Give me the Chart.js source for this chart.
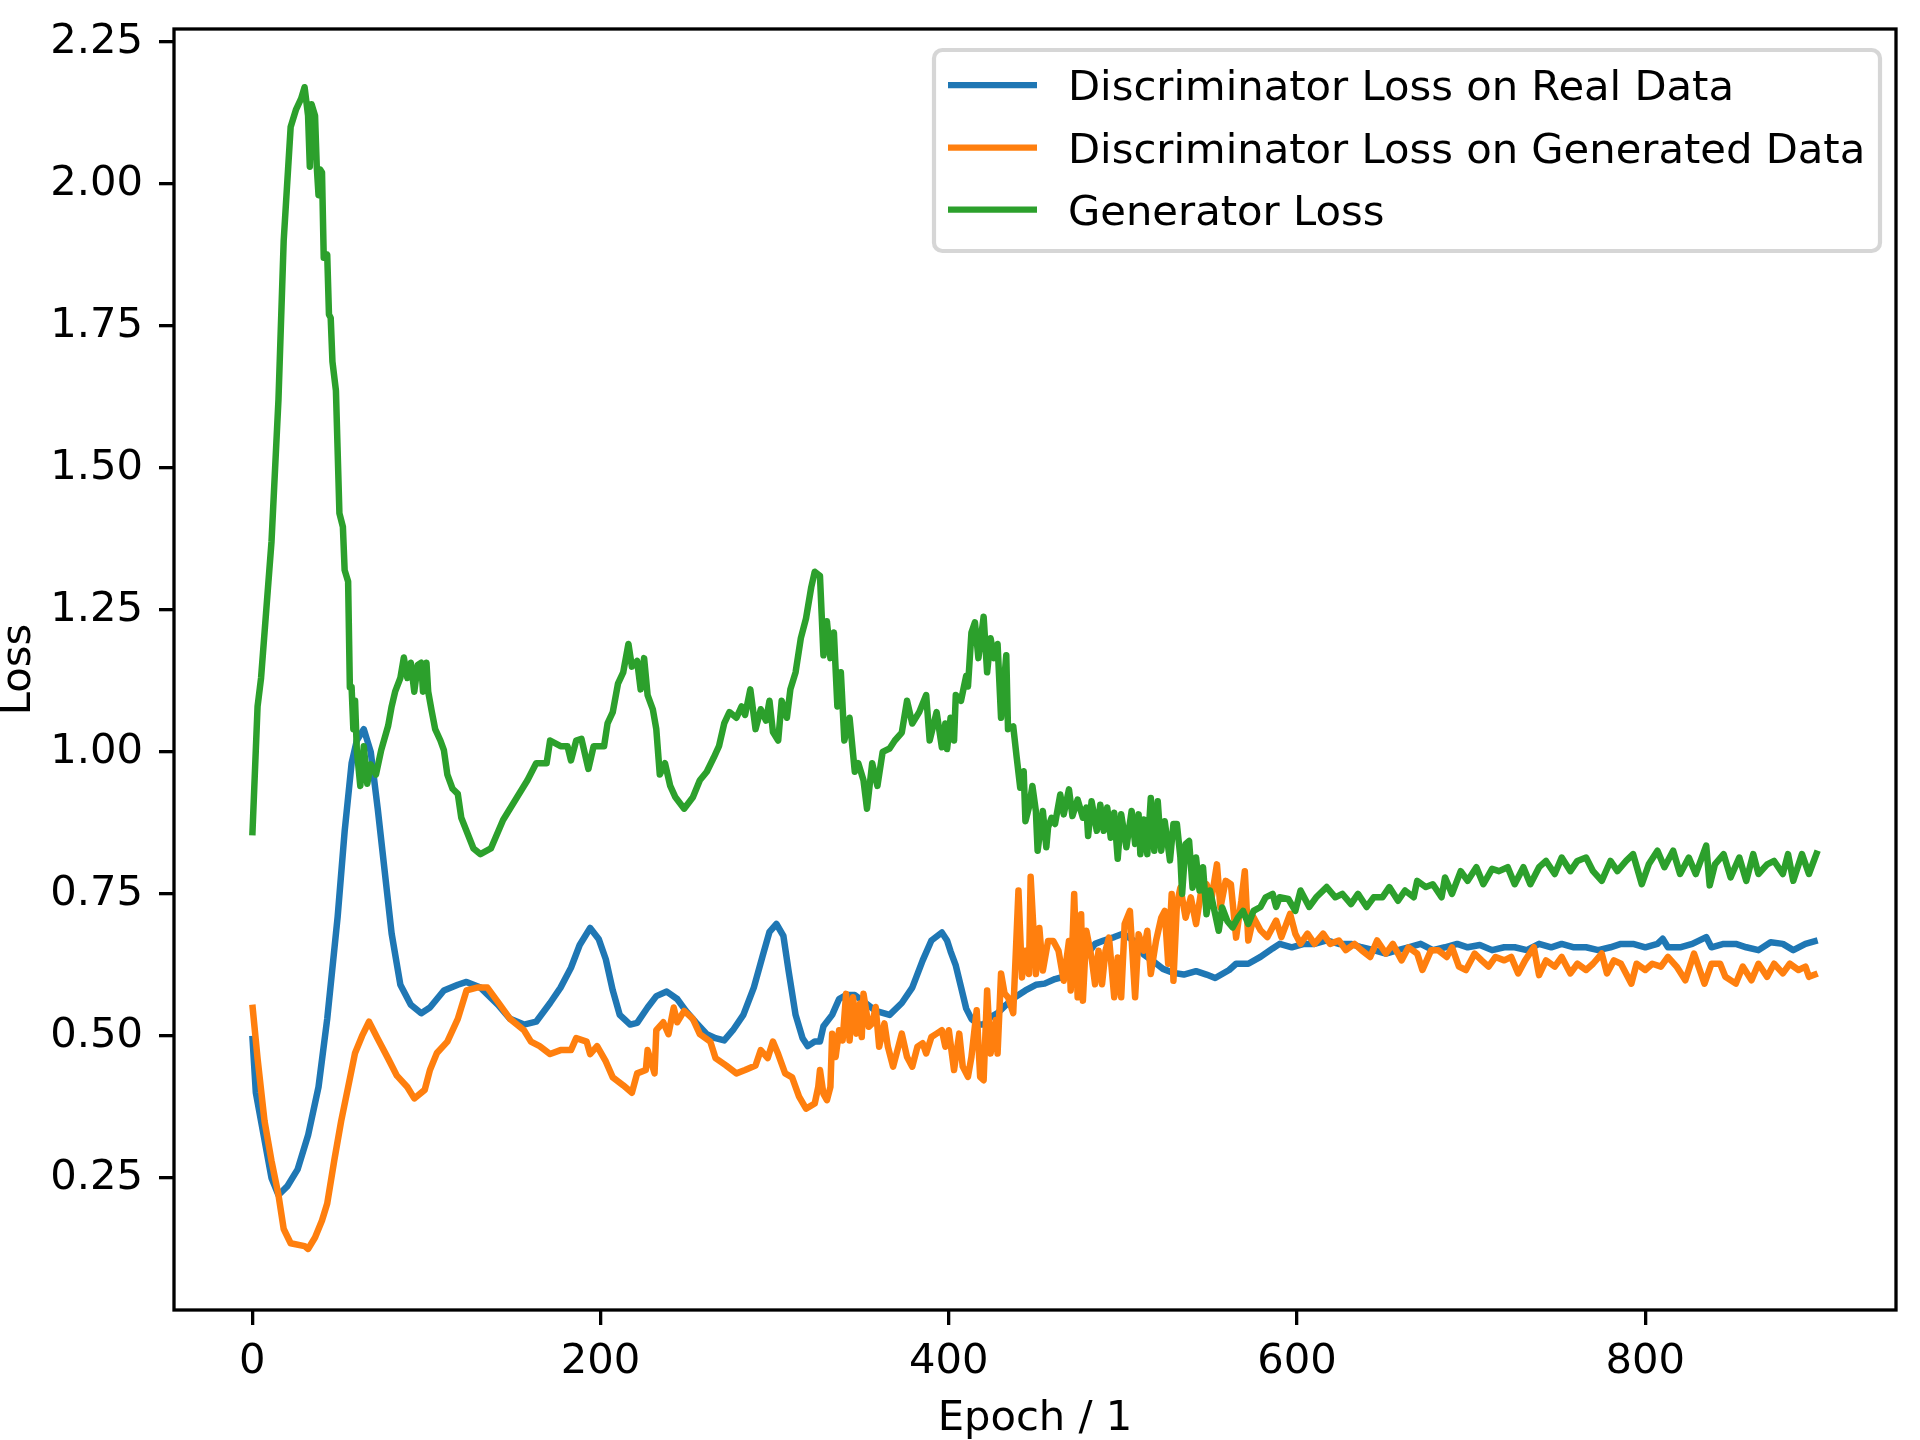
<!DOCTYPE html>
<html><head><meta charset="utf-8">
<script src="https://cdn.jsdelivr.net/npm/chart.js@4.4.1/dist/chart.umd.min.js"></script>
<style>html,body{margin:0;padding:0;background:#fff}#wrap{width:1920px;height:1440px}</style>
</head><body><div id="wrap"><canvas id="c" width="1920" height="1440"></canvas></div>
<script>
const seriesLabels = ['Discriminator Loss on Real Data', 'Discriminator Loss on Generated Data', 'Generator Loss'];
const xTicks = [0, 200, 400, 600, 800];
const yTicks = [0.25, 0.5, 0.75, 1.0, 1.25, 1.5, 1.75, 2.0, 2.25];

const epochsReal = [
0,2,5,11,15,20,26,32,38,43,
49,53,57,60,64,68,72,76,80,85,
91,97,102,110,118,123,131,141,148,156,
163,171,177,183,188,194,199,203,207,211,
217,221,227,232,238,244,249,255,261,266,
271,276,282,288,293,297,301,305,308,312,
316,319,323,326,328,333,337,341,346,352,
358,366,373,379,385,390,396,399,401,404,
407,410,413,417,420,424,428,433,438,444,
450,455,461,467,472,478,484,489,495,500,
506,512,518,523,529,535,542,548,553,561,
565,572,579,586,590,597,604,610,617,624,
631,637,644,651,658,664,671,678,685,692,
698,705,712,719,725,732,739,746,752,759,
766,773,780,786,793,800,807,810,813,820,
827,835,838,845,852,858,865,872,879,885,
892,899];
const lossReal = [
0.50,0.40,0.35,0.25,0.22,0.235,0.265,0.325,0.41,0.53,
0.71,0.86,0.98,1.02,1.04,1.00,0.90,0.79,0.68,0.59,
0.555,0.54,0.55,0.58,0.59,0.595,0.585,0.555,0.53,0.52,
0.525,0.558,0.585,0.62,0.66,0.69,0.67,0.635,0.58,0.537,
0.52,0.523,0.55,0.57,0.578,0.565,0.544,0.523,0.503,0.496,
0.492,0.51,0.537,0.585,0.64,0.683,0.697,0.676,0.614,0.537,
0.496,0.482,0.49,0.49,0.517,0.537,0.565,0.572,0.572,0.558,
0.544,0.537,0.558,0.585,0.633,0.668,0.682,0.668,0.649,0.624,
0.586,0.548,0.53,0.52,0.52,0.533,0.54,0.555,0.568,0.58,
0.59,0.592,0.60,0.605,0.618,0.637,0.662,0.668,0.674,0.68,
0.668,0.643,0.63,0.618,0.611,0.608,0.614,0.608,0.602,0.616,
0.627,0.627,0.639,0.654,0.662,0.656,0.662,0.662,0.668,0.662,
0.662,0.656,0.651,0.645,0.651,0.656,0.662,0.651,0.656,0.662,
0.656,0.66,0.651,0.656,0.656,0.651,0.662,0.656,0.662,0.656,
0.656,0.651,0.656,0.662,0.662,0.656,0.662,0.671,0.656,0.656,
0.662,0.674,0.656,0.662,0.662,0.656,0.651,0.665,0.662,0.651,
0.662,0.668];

const epochsGenerated = [
0,3,7,11,15,18,22,30,32,36,
40,43,47,51,55,59,63,67,72,78,
83,89,93,99,102,106,112,118,123,129,
135,141,148,156,160,165,171,177,183,186,
192,194,198,203,207,213,218,221,226,227,
231,232,236,239,242,244,248,253,257,263,
266,272,278,283,289,292,296,299,302,306,
310,314,318,323,325,326,328,330,332,333,
335,337,339,341,343,345,347,349,350,351,
354,356,358,360,363,365,368,370,373,376,
379,382,385,387,390,393,396,398,400,403,
406,408,411,413,416,418,420,422,424,427,
428,430,432,434,437,440,442,444,446,447,
450,452,454,457,460,463,466,469,470,472,
474,476,477,479,482,484,486,488,490,492,
495,497,499,501,504,507,509,512,514,516,
519,522,524,526,528,529,531,533,536,539,
542,545,548,551,554,556,559,562,565,568,
570,572,575,579,583,588,591,596,
599,602,606,610,615,619,624,628,633,637,
642,646,651,655,660,664,669,672,677,681,
686,689,693,697,702,706,710,714,719,723,
727,731,736,739,743,748,752,757,761,766,
770,775,778,782,786,792,795,800,804,809,
813,818,823,828,834,838,843,846,852,856,
861,865,870,874,879,883,888,892,894,899];
const lossGenerated = [
0.555,0.46,0.35,0.28,0.22,0.16,0.135,0.13,0.125,0.145,
0.175,0.205,0.28,0.35,0.41,0.47,0.50,0.525,0.495,0.46,
0.43,0.41,0.39,0.405,0.44,0.47,0.49,0.53,0.58,0.585,
0.585,0.56,0.53,0.51,0.49,0.482,0.468,0.475,0.475,0.496,
0.49,0.468,0.482,0.455,0.427,0.413,0.40,0.434,0.44,0.475,
0.434,0.51,0.524,0.503,0.55,0.524,0.544,0.53,0.503,0.49,
0.461,0.448,0.434,0.44,0.448,0.475,0.461,0.49,0.468,0.434,
0.427,0.393,0.372,0.381,0.41,0.44,0.398,0.387,0.41,0.504,
0.463,0.51,0.492,0.574,0.492,0.568,0.504,0.557,0.498,0.574,
0.516,0.522,0.551,0.481,0.522,0.481,0.446,0.469,0.504,0.463,
0.446,0.481,0.487,0.469,0.498,0.504,0.51,0.481,0.51,0.44,
0.504,0.446,0.428,0.463,0.545,0.428,0.422,0.58,0.469,0.528,
0.469,0.61,0.575,0.568,0.54,0.756,0.603,0.65,0.609,0.78,
0.609,0.69,0.615,0.667,0.667,0.65,0.597,0.667,0.58,0.75,
0.568,0.714,0.562,0.685,0.638,0.591,0.65,0.591,0.65,0.673,
0.568,0.638,0.568,0.697,0.72,0.568,0.679,0.65,0.685,0.609,
0.667,0.708,0.72,0.627,0.75,0.597,0.732,0.761,0.708,0.744,
0.697,0.756,0.767,0.744,0.802,0.726,0.773,0.767,0.673,0.738,
0.79,0.668,0.709,0.686,0.674,0.703,0.674,0.715,
0.68,0.662,0.68,0.662,0.68,0.662,0.668,0.651,0.662,0.651,
0.639,0.668,0.645,0.662,0.633,0.656,0.645,0.616,0.651,0.651,
0.639,0.656,0.622,0.616,0.645,0.633,0.622,0.639,0.633,0.639,
0.61,0.633,0.656,0.607,0.633,0.622,0.639,0.61,0.627,0.616,
0.627,0.645,0.61,0.633,0.627,0.592,0.627,0.616,0.627,0.622,
0.639,0.622,0.598,0.645,0.592,0.627,0.627,0.604,0.592,0.622,
0.598,0.627,0.604,0.627,0.61,0.627,0.616,0.622,0.604,0.61];

const epochsGenerator = [
0,3,5,11,15,18,22,25,28,30,
32,33,34,36,37,38,39,40,41,43,
44,45,46,48,50,52,53,55,56,57,
58,59,60,62,64,66,68,71,74,78,
80,82,85,87,89,91,93,95,97,98,
100,101,103,105,108,110,112,115,118,120,
127,131,137,144,152,158,163,169,171,177,
181,183,
186,189,193,196,202,204,207,210,213,216,
218,221,223,225,227,230,232,234,237,240,
243,248,253,257,261,265,268,271,274,278,
281,283,286,289,292,295,297,299,302,304,
307,309,312,315,318,321,323,326,328,330,
332,334,336,338,340,343,346,348,351,353,
356,359,362,366,369,373,376,379,383,387,
389,393,396,398,399,401,403,404,407,410,
411,413,415,417,420,422,424,426,428,430,
433,434,437,439,441,443,444,446,448,450,
451,454,456,457,459,461,464,466,469,471,
474,477,479,480,482,485,487,489,491,493,
495,497,499,502,505,507,509,510,512,514,
516,518,520,522,524,527,529,531,533,534,
536,538,540,542,544,546,548,550,553,555,
557,560,563,566,569,572,575,579,582,586,
588,590,595,599,602,607,611,617,622,626,
631,635,640,644,649,653,658,662,667,669,
674,678,683,685,689,694,698,703,707,712,
716,721,725,730,734,739,743,748,752,757,
761,766,770,775,780,784,789,793,798,802,
807,811,816,820,825,829,835,837,840,845,
849,854,858,862,865,870,874,879,882,885,
890,894,899];
const lossGenerator = [
0.853,1.08,1.13,1.37,1.62,1.90,2.10,2.13,2.15,2.17,
2.12,2.03,2.14,2.12,2.03,1.98,2.025,2.02,1.87,1.875,
1.77,1.764,1.687,1.636,1.42,1.396,1.32,1.30,1.114,1.114,
1.04,1.09,1.003,0.94,1.01,0.944,0.978,0.96,1.003,1.046,
1.08,1.106,1.13,1.166,1.13,1.157,1.106,1.153,1.157,1.106,
1.157,1.106,1.072,1.04,1.02,1.003,0.96,0.935,0.926,0.884,
0.83,0.82,0.83,0.88,0.92,0.95,0.98,0.98,1.02,1.01,
1.01,0.985,
1.02,1.023,0.97,1.01,1.01,1.05,1.07,1.12,1.14,1.19,
1.15,1.16,1.11,1.165,1.10,1.075,1.04,0.96,0.98,0.94,
0.92,0.90,0.92,0.95,0.965,0.99,1.01,1.05,1.07,1.06,
1.08,1.065,1.11,1.04,1.075,1.055,1.09,1.035,1.02,1.09,
1.06,1.11,1.14,1.20,1.235,1.29,1.317,1.31,1.17,1.23,
1.165,1.21,1.08,1.14,1.02,1.06,0.965,0.98,0.95,0.90,
0.98,0.94,1.0,1.006,1.02,1.034,1.09,1.05,1.07,1.10,
1.02,1.07,1.008,1.05,1.005,1.06,1.02,1.10,1.09,1.134,
1.115,1.21,1.228,1.165,1.238,1.14,1.20,1.165,1.19,1.06,
1.17,1.04,1.045,0.99,0.937,0.966,0.878,0.902,0.94,0.896,
0.826,0.896,0.832,0.867,0.884,0.873,0.925,0.89,0.934,0.887,
0.916,0.884,0.902,0.852,0.913,0.861,0.907,0.861,0.902,0.849,
0.893,0.812,0.89,0.832,0.896,0.838,0.89,0.82,0.881,0.82,
0.919,0.826,0.913,0.826,0.878,0.809,0.873,0.873,0.814,0.75,
0.838,0.843,0.761,0.814,0.756,0.797,0.714,0.756,0.714,0.685,
0.726,0.702,0.691,0.708,0.72,0.697,0.72,0.727,0.744,0.75,
0.727,0.744,0.741,0.72,0.756,0.727,0.744,0.762,0.744,0.75,
0.732,0.75,0.727,0.744,0.744,0.762,0.738,0.756,0.744,0.773,
0.762,0.767,0.744,0.779,0.75,0.79,0.773,0.797,0.767,0.794,
0.79,0.797,0.767,0.797,0.767,0.797,0.808,0.785,0.814,0.79,
0.808,0.814,0.79,0.773,0.808,0.79,0.808,0.82,0.767,0.802,
0.826,0.797,0.826,0.785,0.814,0.785,0.835,0.765,0.802,0.82,
0.779,0.814,0.773,0.82,0.785,0.802,0.808,0.785,0.82,0.773,
0.82,0.785,0.826];

const toPoints = (xs, ys) => xs.map((x, i) => ({x: x, y: ys[i]}));

const FONT = 'DejaVu Sans';
const FS = 41.7;

const framePlugin = {
  id: 'frame',
  afterDatasetsDraw(chart) {
    const {ctx, chartArea: a} = chart;
    ctx.save();
    ctx.strokeStyle = '#000';
    ctx.lineWidth = 3.3;
    ctx.strokeRect(a.left, a.top, a.right - a.left, a.bottom - a.top);
    ctx.restore();
  }
};

const legendPlugin = {
  id: 'boxLegend',
  afterDraw(chart) {
    const ctx = chart.ctx;
    const x0 = 934, y0 = 50, x1 = 1880, y1 = 251, r = 8.3;
    ctx.save();
    ctx.beginPath();
    ctx.moveTo(x0 + r, y0);
    ctx.arcTo(x1, y0, x1, y1, r);
    ctx.arcTo(x1, y1, x0, y1, r);
    ctx.arcTo(x0, y1, x0, y0, r);
    ctx.arcTo(x0, y0, x1, y0, r);
    ctx.closePath();
    ctx.fillStyle = 'rgba(255,255,255,0.8)';
    ctx.fill();
    ctx.strokeStyle = 'rgba(204,204,204,0.8)';
    ctx.lineWidth = 4.2;
    ctx.stroke();
    const rows = [85, 147.5, 209.5];
    chart.data.datasets.forEach((ds, i) => {
      const y = rows[i];
      ctx.beginPath();
      ctx.strokeStyle = ds.borderColor;
      ctx.lineWidth = 6.25;
      ctx.lineCap = 'butt';
      ctx.moveTo(948, y);
      ctx.lineTo(1037, y);
      ctx.stroke();
      ctx.fillStyle = '#000';
      ctx.font = FS + 'px "' + FONT + '"';
      ctx.textBaseline = 'alphabetic';
      ctx.textAlign = 'left';
      ctx.fillText(ds.label, 1068, y + 15);
    });
    ctx.restore();
  }
};

const tickFont = {family: FONT, size: FS};

new Chart(document.getElementById('c'), {
  type: 'line',
  data: {
    datasets: [
      {label: seriesLabels[0], data: toPoints(epochsReal, lossReal), borderColor: '#1f77b4', order: 2},
      {label: seriesLabels[1], data: toPoints(epochsGenerated, lossGenerated), borderColor: '#ff7f0e', order: 1},
      {label: seriesLabels[2], data: toPoints(epochsGenerator, lossGenerator), borderColor: '#2ca02c', order: 0}
    ]
  },
  options: {
    responsive: false,
    animation: false,
    devicePixelRatio: 1,
    layout: {padding: {left: 0, top: 29, right: 24, bottom: 0}},
    elements: {
      point: {radius: 0, hoverRadius: 0},
      line: {borderWidth: 6.5, tension: 0, fill: false, borderJoinStyle: 'round', borderCapStyle: 'butt'}
    },
    plugins: {legend: {display: false}, tooltip: {enabled: false}},
    scales: {
      x: {
        type: 'linear',
        min: -45, max: 944,
        afterBuildTicks: s => { s.ticks = xTicks.map(v => ({value: v})); },
        afterFit: s => { s.height = 130; s.paddingLeft = 0; s.paddingRight = 0; },
        grid: {display: true, drawOnChartArea: false, drawTicks: true, tickLength: 15, tickWidth: 3.3, tickColor: '#000', color: '#000', lineWidth: 3.3},
        border: {display: false},
        ticks: {font: tickFont, color: '#000', padding: 12, maxRotation: 0, autoSkip: false, callback: v => String(v)},
        title: {display: true, text: 'Epoch / 1', color: '#000', font: {family: FONT, size: FS, lineHeight: 1.0}, padding: {top: 0, bottom: 0}}
      },
      y: {
        type: 'linear',
        min: 0.0175, max: 2.2725,
        afterBuildTicks: s => { s.ticks = yTicks.map(v => ({value: v})); },
        afterFit: s => { s.width = 174; s.paddingTop = 0; s.paddingBottom = 0; },
        grid: {display: true, drawOnChartArea: false, drawTicks: true, tickLength: 15, tickWidth: 3.3, tickColor: '#000', color: '#000', lineWidth: 3.3},
        border: {display: false},
        ticks: {font: tickFont, color: '#000', padding: 16, autoSkip: false, callback: v => Number(v).toFixed(2)},
        title: {display: true, text: 'Loss', color: '#000', font: {family: FONT, size: FS, lineHeight: 1.0}, padding: {top: -2, bottom: 0}}
      }
    }
  },
  plugins: [framePlugin, legendPlugin]
});
</script>
</body></html>
